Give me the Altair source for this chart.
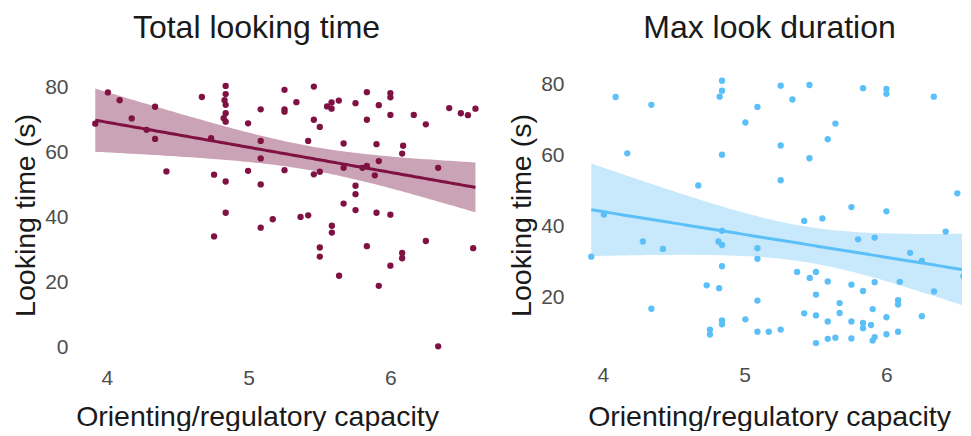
import altair as alt
import numpy as np
import pandas as pd

# ---- data ----
total_x = [3.918, 4.007, 4.09, 4.175, 4.28, 4.34, 4.34, 4.42, 4.67, 4.735, 4.756, 4.756,
           4.838, 4.838, 4.83, 4.838, 4.838, 4.824, 4.838, 4.838, 4.838, 4.996, 4.996,
           5.085, 5.085, 5.085, 5.085, 5.085, 5.17, 5.253, 5.253, 5.253, 5.253, 5.337,
           5.366, 5.42, 5.42, 5.46, 5.46, 5.502, 5.46, 5.502, 5.553, 5.585, 5.585, 5.636,
           5.587, 5.587, 5.67, 5.67, 5.67, 5.754, 5.754, 5.754, 5.754, 5.803, 5.834, 5.834,
           5.834, 5.89, 5.902, 5.918, 5.918, 5.902, 6.0, 6.0, 6.0, 6.0, 6.09, 6.083, 6.165,
           6.25, 6.337, 6.25, 6.415, 6.497, 6.547, 6.6, 5.502, 5.502, 5.638, 5.834, 5.918,
           6.0, 6.083, 6.083, 6.584, 6.337]
total_y = [68.9, 78.5, 76.1, 70.5, 67.0, 74.1, 64.2, 54.2, 77.1, 64.4, 53.2, 34.2,
           80.5, 78.0, 76.1, 74.7, 72.1, 70.6, 69.5, 51.1, 41.5, 69.0, 54.4,
           73.3, 63.6, 58.2, 50.2, 36.9, 39.5, 79.3, 73.3, 72.6, 54.6, 75.5,
           40.2, 40.7, 63.6, 80.3, 70.1, 67.9, 53.3, 54.1, 74.2, 75.4, 73.5, 76.0,
           37.5, 35.4, 62.8, 55.3, 44.3, 75.2, 49.8, 47.2, 42.3, 55.3, 78.6, 70.1,
           55.9, 53.0, 62.6, 74.6, 57.4, 41.5, 78.3, 77.0, 71.6, 40.9, 62.1, 59.7, 71.6,
           68.7, 55.3, 32.8, 73.7, 72.1, 71.5, 73.5, 30.8, 28.0, 22.1, 31.2, 19.0,
           25.2, 29.1, 27.5, 30.6, 0.4]

max_x = [4.09, 4.342, 4.172, 4.84, 4.84, 4.824, 4.84, 4.673, 4.007, 4.84, 3.918, 4.282,
         4.423, 4.815, 4.84, 4.84, 4.732, 4.82, 4.342, 4.84, 4.84, 4.755, 4.755, 5.254,
         5.457, 5.337, 5.09, 5.005, 5.835, 6.0, 6.0, 6.334, 6.588, 5.64, 5.586, 5.254,
         5.457, 5.254, 6.5, 5.753, 6.0, 5.42, 5.548, 6.418, 5.80, 5.917, 5.09, 5.09,
         6.167, 6.25, 6.543, 5.37, 5.459, 5.503, 5.586, 5.753, 5.835, 5.917, 6.094,
         6.336, 5.09, 5.503, 5.67, 5.67, 5.42, 5.503, 5.586, 5.753, 5.835, 5.835, 5.891,
         5.903, 6.0, 6.082, 6.082, 6.25, 6.58, 5.005, 5.09, 5.17, 5.254, 5.503, 5.586,
         5.64, 5.753, 5.903, 5.917, 6.0, 6.082]
max_y = [76.6, 74.4, 60.7, 81.2, 78.4, 76.7, 60.3, 51.6, 43.4, 38.8, 31.5, 35.8,
         33.7, 35.8, 34.8, 28.8, 23.4, 22.6, 16.8, 13.5, 12.4, 10.9, 9.5, 79.8,
         80.0, 75.9, 73.8, 69.4, 79.1, 78.9, 77.5, 76.7, 73.8, 69.1, 64.7, 62.9,
         59.3, 53.1, 49.4, 45.5, 44.3, 41.6, 42.3, 38.6, 36.4, 36.9, 33.9, 30.9,
         32.6, 30.3, 26.0, 27.2, 25.5, 27.2, 24.5, 23.6, 21.8, 24.3, 24.4,
         21.7, 19.1, 20.8, 18.4, 15.6, 15.5, 14.9, 13.2, 13.2, 12.8, 11.3, 12.2,
         16.7, 14.4, 19.2, 18.0, 14.7, 13.5, 13.8, 10.3, 10.3, 10.9, 7.1, 8.3,
         8.6, 8.4, 7.8, 8.8, 9.6, 10.3]

x_ticks = [4, 5, 6]
total_y_ticks = [0, 20, 40, 60, 80]
max_y_ticks = [20, 40, 60, 80]

FONT = "Liberation Sans"


def fit_band(xs, ys, n=120):
    """Ordinary least squares fit with a 95% confidence band (like geom_smooth(method='lm'))."""
    x = np.asarray(xs, float)
    y = np.asarray(ys, float)
    N = len(x)
    xm = x.mean()
    sxx = ((x - xm) ** 2).sum()
    b = ((x - xm) * (y - y.mean())).sum() / sxx
    a = y.mean() - b * xm
    s = np.sqrt(((y - (a + b * x)) ** 2).sum() / (N - 2))
    t = 1.988
    g = np.linspace(x.min(), x.max(), n)
    f = a + b * g
    se = s * np.sqrt(1.0 / N + (g - xm) ** 2 / sxx)
    return pd.DataFrame({"x": g, "fit": f, "lo": f - t * se, "hi": f + t * se})


def panel(xs, ys, title, color, band_color, xdomain, ydomain, yticks, width,
          title_dx, lab_pad, title_pad, title_x):
    pts = pd.DataFrame({"x": xs, "y": ys})
    fit = fit_band(xs, ys)
    xsc = alt.Scale(domain=xdomain, nice=False, zero=False)
    ysc = alt.Scale(domain=ydomain, nice=False, zero=False)
    xaxis = alt.Axis(values=x_ticks, title="Orienting/regulatory capacity",
                     labelPadding=lab_pad, titlePadding=title_pad, titleX=title_x)
    yaxis = alt.Axis(values=yticks, title="Looking time (s)")

    def X(f):
        return alt.X(f, type="quantitative", scale=xsc, axis=xaxis,
                     title="Orienting/regulatory capacity")

    def Y(f):
        return alt.Y(f, type="quantitative", scale=ysc, axis=yaxis,
                     title="Looking time (s)")

    band = alt.Chart(fit).mark_area(color=band_color, opacity=1, clip=True).encode(
        x=X("x"), y=Y("lo"), y2="hi")
    line = alt.Chart(fit).mark_line(color=color, strokeWidth=3, clip=True).encode(
        x=X("x"), y=Y("fit"))
    points = alt.Chart(pts).mark_circle(color=color, size=40, opacity=1, clip=True).encode(
        x=X("x"), y=Y("y"))
    return alt.layer(band, line, points).properties(
        width=width, height=288,
        title=alt.TitleParams(title, dx=title_dx))


left = panel(total_x, total_y, "Total looking time", "#7F1242", "#CBA3B6",
             [3.775, 6.745], [-3.5, 85.1], total_y_ticks, 421, -29, 8, 14, 182)
right = panel(max_x, max_y, "Max look duration", "#5BC0F8", "#C8E8FB",
              [3.775, 6.533], [2.6, 83.95], max_y_ticks, 391, 3, 5, 17, 198)

chart = alt.hconcat(left, right, spacing=75, bounds="flush").properties(
    padding={"left": 3, "top": 4, "right": 0, "bottom": 0},
    background="white",
).configure_view(stroke=None).configure_axis(
    grid=False, domain=False, ticks=False, tickSize=0,
    labelFont=FONT, labelFontSize=21, labelColor="#4d4d4d", labelPadding=7,
    titleFont=FONT, titleFontSize=28.5, titleFontWeight="normal", titleColor="#1a1a1a",
    titlePadding=4,
).configure_title(
    font=FONT, fontSize=32, fontWeight="normal", color="#1a1a1a",
    anchor="middle", frame="group", baseline="alphabetic", offset=26,
)

chart.save("out.html", embed_options={"renderer": "svg", "actions": False})
